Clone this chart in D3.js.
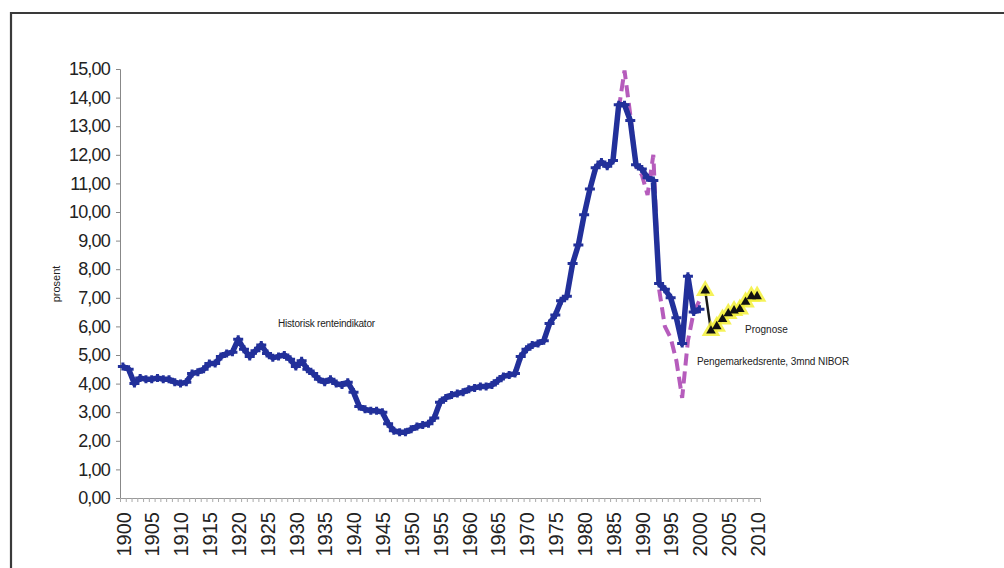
<!DOCTYPE html>
<html>
<head>
<meta charset="utf-8">
<script src="https://cdn.jsdelivr.net/npm/d3@7"></script>
<style>
  body { margin: 0; background: #fff; }
  svg { font-family: "Liberation Sans", Arial, sans-serif; }
</style>
</head>
<body>
<svg id="chart" width="1004" height="568"></svg>
<script>
// historisk renteindikator, 1900-2000
var histYears = d3.range(1900, 2001);
var histValues = [
  4.6, 4.5, 4.0, 4.2, 4.15, 4.15, 4.2, 4.15, 4.15, 4.05,
  4.0, 4.05, 4.35, 4.4, 4.5, 4.7, 4.7, 4.95, 5.05, 5.1,
  5.55, 5.2, 4.95, 5.15, 5.35, 5.05, 4.9, 4.95, 5.0, 4.85,
  4.6, 4.8, 4.5, 4.35, 4.15, 4.05, 4.15, 4.0, 3.95, 4.05,
  3.7, 3.2, 3.1, 3.05, 3.05, 3.0, 2.6, 2.35, 2.3, 2.3,
  2.4, 2.5, 2.55, 2.6, 2.8, 3.35, 3.5, 3.6, 3.65, 3.7,
  3.8, 3.85, 3.9, 3.9, 3.95, 4.1, 4.25, 4.3, 4.35, 4.95,
  5.2, 5.35, 5.4, 5.5, 6.1, 6.4, 6.9, 7.05, 8.2, 8.85,
  9.9, 10.8, 11.55, 11.75, 11.6, 11.8, 13.75, 13.75, 13.2, 11.65,
  11.5, 11.2, 11.1, 7.5, 7.3, 7.0, 6.3, 5.4, 7.75, 6.5,
  6.6
];

// pengemarkedsrente, 3mnd NIBOR
var niborYears = d3.range(1986, 2001);
var niborValues = [13.6, 14.95, 13.4, 11.6, 11.3, 10.6, 12.0, 7.3, 6.0, 5.6, 4.8, 3.5, 5.5, 6.5, 6.9];

// prognose
var progYears = d3.range(2001, 2011);
var progValues = [7.25, 5.85, 6.0, 6.25, 6.45, 6.55, 6.6, 6.85, 7.05, 7.05];

var yTicks = d3.range(0, 16);
var xLabelYears = d3.range(1900, 2011, 5);

var svg = d3.select("#chart");

// frame round the chart
svg.append("path")
  .attr("d", "M11,568V13H1004")
  .attr("fill", "none")
  .attr("stroke", "#3a3a3a")
  .attr("stroke-width", 2.2);

// scales: one category per year
var x = d3.scaleLinear().domain([1899.5, 2010.5]).range([120, 760]);
var y = d3.scaleLinear().domain([0, 15]).range([498, 69]);

function toRows(years, values) {
  var rows = [];
  for (var i = 0; i < values.length; i++) {
    rows.push({"year": years[i], "v": values[i]});
  }
  return rows;
}
var hist = toRows(histYears, histValues);
var nibor = toRows(niborYears, niborValues);
var prog = toRows(progYears, progValues);

var line = d3.line()
  .x(function(d) { return x(d.year); })
  .y(function(d) { return y(d.v); });

// Y axis
var yAxis = svg.append("g")
  .attr("transform", "translate(120,0)")
  .call(d3.axisLeft(y).tickValues(yTicks).tickSize(4).tickPadding(6)
    .tickFormat(function(d) { return d3.format(".2f")(d).replace(".", ","); }));
yAxis.select(".domain").attr("stroke", "#888");
yAxis.selectAll(".tick line").attr("stroke", "#888");
yAxis.selectAll("text")
  .style("font-size", "18px")
  .style("letter-spacing", "-0.8px")
  .attr("fill", "#222");

// X axis: a tick between every category
var xTickAxis = svg.append("g")
  .attr("transform", "translate(0,498)")
  .call(d3.axisBottom(x).tickValues(d3.range(1899.5, 2011, 1)).tickSize(4).tickFormat(""));
xTickAxis.select(".domain").attr("stroke", "#999");
xTickAxis.selectAll(".tick line").attr("stroke", "#aaa");

// year labels every five years
var xLabelAxis = svg.append("g")
  .attr("transform", "translate(0,498)")
  .call(d3.axisBottom(x).tickValues(xLabelYears).tickSize(0).tickFormat(d3.format("d")));
xLabelAxis.select(".domain").remove();
xLabelAxis.selectAll("text")
  .attr("transform", "rotate(-90)")
  .attr("x", -14)
  .attr("y", 0)
  .attr("dy", "0.36em")
  .style("text-anchor", "end")
  .style("font-size", "20px")
  .attr("fill", "#222");

// text label for the y axis
svg.append("text")
  .attr("transform", "translate(60,284) rotate(-90)")
  .style("text-anchor", "middle")
  .style("font-size", "11px")
  .attr("fill", "#222")
  .text("prosent");

// NIBOR, dashed magenta
svg.append("path")
  .datum(nibor)
  .attr("d", line)
  .attr("fill", "none")
  .attr("stroke", "#b65cbc")
  .attr("stroke-width", 4)
  .attr("stroke-dasharray", "12,6");

// historic line
svg.append("path")
  .datum(hist)
  .attr("d", line)
  .attr("fill", "none")
  .attr("stroke", "#22309a")
  .attr("stroke-width", 5.5)
  .attr("stroke-linejoin", "round");

svg.selectAll(".histmark")
  .data(hist)
  .enter().append("path")
  .attr("class", "histmark")
  .attr("transform", function(d) { return "translate(" + x(d.year) + "," + y(d.v) + ")"; })
  .attr("d", "M-5,0H5M0,-4V4")
  .attr("stroke", "#22309a")
  .attr("stroke-width", 3);

// prognose: black line, triangles with yellow halo
svg.append("path")
  .datum(prog)
  .attr("d", line)
  .attr("fill", "none")
  .attr("stroke", "#1a1a1a")
  .attr("stroke-width", 2.5);

var tri = d3.symbol().type(d3.symbolTriangle);
svg.selectAll(".halo")
  .data(prog)
  .enter().append("path")
  .attr("class", "halo")
  .attr("transform", function(d) { return "translate(" + x(d.year) + "," + y(d.v) + ")"; })
  .attr("d", tri.size(150))
  .attr("fill", "#f3f03a")
  .attr("opacity", 0.85);
svg.selectAll(".progmark")
  .data(prog)
  .enter().append("path")
  .attr("class", "progmark")
  .attr("transform", function(d) { return "translate(" + x(d.year) + "," + y(d.v) + ")"; })
  .attr("d", tri.size(40))
  .attr("fill", "#111");

// series labels
svg.append("text")
  .attr("x", 278).attr("y", 327)
  .style("font-size", "10px")
  .style("letter-spacing", "-0.2px")
  .attr("fill", "#222")
  .text("Historisk renteindikator");

svg.append("text")
  .attr("x", 745).attr("y", 333)
  .style("font-size", "10px")
  .attr("fill", "#222")
  .text("Prognose");

svg.append("text")
  .attr("x", 697).attr("y", 365)
  .style("font-size", "10px")
  .style("letter-spacing", "-0.1px")
  .attr("fill", "#222")
  .text("Pengemarkedsrente, 3mnd NIBOR");
</script>
</body>
</html>
